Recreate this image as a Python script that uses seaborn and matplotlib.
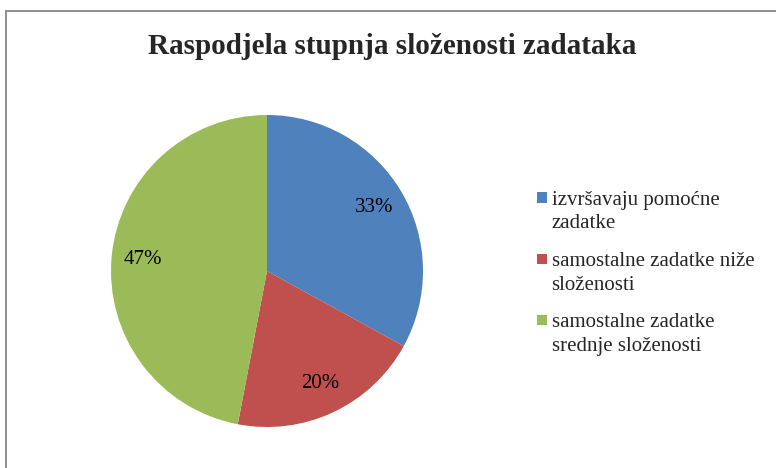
import matplotlib
matplotlib.use("Agg")
import matplotlib.pyplot as plt
import seaborn as sns
from matplotlib.patches import Patch, Rectangle
from matplotlib.legend_handler import HandlerPatch

labels = ["izvršavaju pomoćne\nzadatke",
          "samostalne zadatke niže\nsloženosti",
          "samostalne zadatke\nsrednje složenosti"]
values = [33, 20, 47]
colors = ["#4F81BD", "#C0504D", "#9BBB59"]
title = "Raspodjela stupnja složenosti zadataka"

sns.set_style("white")
plt.rcParams["font.family"] = ["Liberation Serif", "DejaVu Serif"]

fig = plt.figure(figsize=(7.76, 4.68), dpi=100)
ax = fig.add_axes([(267 - 156) / 776, 1 - (271 + 156) / 468, 312 / 776, 312 / 468])

wedges, texts, autotexts = ax.pie(
    values, colors=sns.color_palette(colors), startangle=90, counterclock=False,
    autopct=lambda p: f"{p:.0f}%", pctdistance=0.80,
    textprops=dict(fontsize=15, color="black"),
    wedgeprops=dict(linewidth=0))
ax.set_aspect("equal")
ax.set_xlim(-1, 1)
ax.set_ylim(-1, 1)
ax.axis("off")

fig.text(392.5 / 776, 1 - 53.5 / 468, title, ha="center", va="baseline",
         fontsize=21, fontweight="bold")


def top_square(legend, orig_handle, xdescent, ydescent, width, height, fontsize):
    s = 0.5 * fontsize
    return Rectangle((xdescent + width - s, height * 0.5 + 0.5 * fontsize), s, s)


handles = [Patch(facecolor=c, edgecolor="none") for c in colors]
leg = fig.legend(handles, labels, loc="upper left",
                 bbox_to_anchor=(537 / 776, 1 - 191 / 468),
                 frameon=False, fontsize=15, handlelength=0.5, handleheight=0.5,
                 handletextpad=0.2, labelspacing=0.9, borderaxespad=0, borderpad=0,
                 handler_map={Patch: HandlerPatch(patch_func=top_square)})
for t in leg.get_texts():
    t.set_linespacing(1.32)

fig.add_artist(Rectangle((5.5 / 776, -0.1), 1.2, 1 - 11 / 468 + 0.1,
                         transform=fig.transFigure, fill=False,
                         edgecolor="#868686", linewidth=1.3))

fig.savefig("out.png", dpi=100)
